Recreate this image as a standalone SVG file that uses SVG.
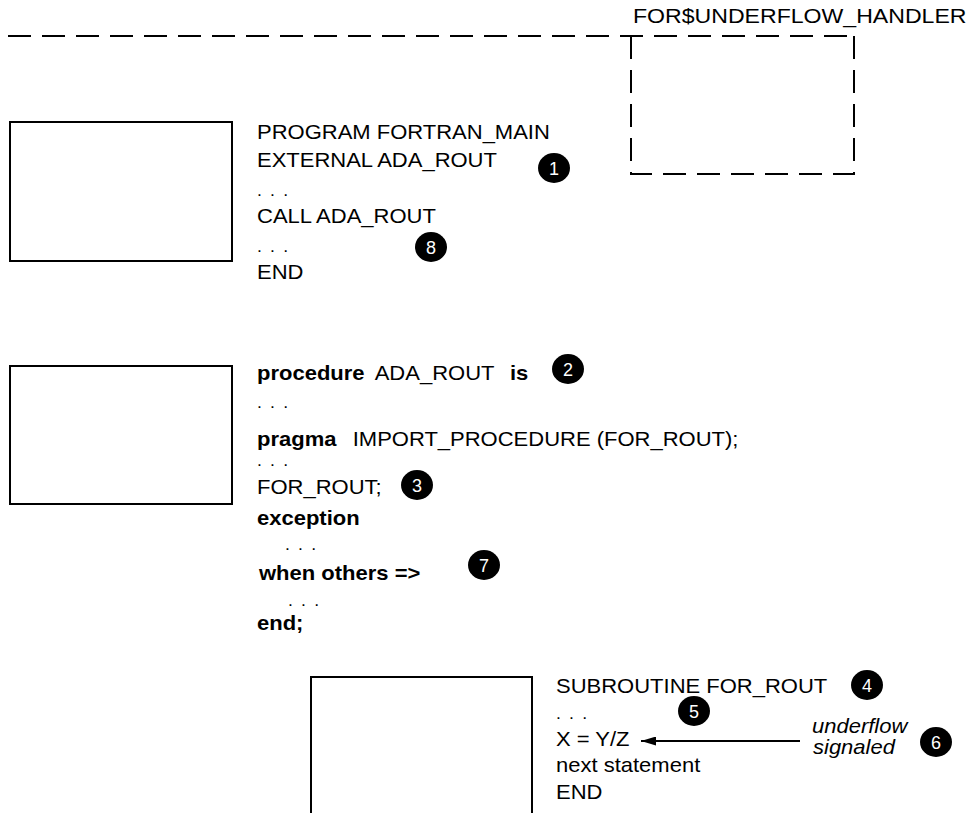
<svg xmlns="http://www.w3.org/2000/svg" width="968" height="813" viewBox="0 0 968 813">
<style>
  text { font-family: "Liberation Sans", Arial, sans-serif; fill: #000; }
  .t { font-size: 20px; }
  .b { font-weight: bold; }
  .d { font-size: 16px; letter-spacing: 1.5px; }
  .it { font-style: italic; font-size: 20px; }
  .num { font-size: 18px; fill: #fff; text-anchor: middle; }
  .box { fill: none; stroke: #000; stroke-width: 2; }
  .dash { fill: none; stroke: #000; stroke-width: 2; stroke-dasharray: 23 11; }
  .conn { fill: none; stroke: #000; stroke-width: 2; }
</style>
<defs>
  <marker id="ah" markerUnits="userSpaceOnUse" markerWidth="15" markerHeight="9" refX="15" refY="4.5" orient="auto">
    <path d="M0,0 L15,4.5 L0,9 z" fill="#000"/>
  </marker>
  <g id="ball"><ellipse cx="0" cy="0" rx="16" ry="15" fill="#000"/></g>
</defs>
<rect width="968" height="813" fill="#fff"/>

<g id="handler">
  <path class="dash" d="M8,36 H854"/>
  <path class="dash" d="M631,36 V174 H854 V36"/>
  <text class="t" style="font-size:21px" transform="translate(633,23) scale(1.1,1)">FOR$UNDERFLOW_HANDLER</text>
</g>

<g id="fortran-main">
  <rect class="box" x="10" y="122" width="222" height="139"/>
  <text class="t" transform="translate(257,139) scale(1.1,1)">PROGRAM FORTRAN_MAIN</text>
  <text class="t" transform="translate(257,167) scale(1.1,1)">EXTERNAL ADA_ROUT</text>
  <text class="d" transform="translate(257,196) scale(1.1,1)">. . .</text>
  <text class="t" transform="translate(257,223) scale(1.1,1)">CALL ADA_ROUT</text>
  <text class="d" transform="translate(257,252) scale(1.1,1)">. . .</text>
  <text class="t" transform="translate(257,279) scale(1.1,1)">END</text>
</g>

<g id="ada-rout">
  <rect class="box" x="10" y="366" width="222" height="138"/>
  <text class="t" transform="translate(257,380) scale(1.1,1)"><tspan class="b">procedure</tspan><tspan x="107">ADA_ROUT</tspan><tspan class="b" x="230">is</tspan></text>
  <text class="d" transform="translate(257,408) scale(1.1,1)">. . .</text>
  <text class="t" transform="translate(257,446) scale(1.1,1)"><tspan class="b">pragma</tspan><tspan x="87">IMPORT_PROCEDURE (FOR_ROUT);</tspan></text>
  <text class="d" transform="translate(257,466) scale(1.1,1)">. . .</text>
  <text class="t" transform="translate(257,494) scale(1.1,1)">FOR_ROUT;</text>
  <text class="t b" transform="translate(257,525) scale(1.1,1)">exception</text>
  <text class="d" transform="translate(285,550) scale(1.1,1)">. . .</text>
  <text class="t b" transform="translate(259,580) scale(1.1,1)">when others =&gt;</text>
  <text class="d" transform="translate(288,606) scale(1.1,1)">. . .</text>
  <text class="t b" transform="translate(257,630) scale(1.1,1)">end;</text>
</g>

<g id="for-rout">
  <path class="box" d="M311,815 V677 H532 V815"/>
  <text class="t" transform="translate(556,693) scale(1.1,1)">SUBROUTINE FOR_ROUT</text>
  <text class="d" transform="translate(556,719) scale(1.1,1)">. . .</text>
  <text class="t" transform="translate(556,746) scale(1.1,1)">X = Y/Z</text>
  <text class="t" transform="translate(556,772) scale(1.1,1)">next statement</text>
  <text class="t" transform="translate(556,799) scale(1.1,1)">END</text>
  <text class="it" transform="translate(812,733) scale(1.1,1)">underflow</text>
  <text class="it" transform="translate(813,754) scale(1.1,1)">signaled</text>
</g>

<g id="connectors">
  <path class="conn" d="M800,741 H641" marker-end="url(#ah)"/>
</g>

<g id="callouts">
  <g id="c1"><use href="#ball" x="554" y="168"/><text class="num" x="554" y="174.5">1</text></g>
  <g id="c2"><use href="#ball" x="568" y="369"/><text class="num" x="568" y="375.5">2</text></g>
  <g id="c3"><use href="#ball" x="417" y="485"/><text class="num" x="417" y="491.5">3</text></g>
  <g id="c4"><use href="#ball" x="867" y="685"/><text class="num" x="867" y="691.5">4</text></g>
  <g id="c5"><use href="#ball" x="694" y="711"/><text class="num" x="694" y="717.5">5</text></g>
  <g id="c6"><use href="#ball" x="936" y="742"/><text class="num" x="936" y="748.5">6</text></g>
  <g id="c7"><use href="#ball" x="484" y="565"/><text class="num" x="484" y="571.5">7</text></g>
  <g id="c8"><use href="#ball" x="431" y="247"/><text class="num" x="431" y="253.5">8</text></g>
</g>
</svg>
